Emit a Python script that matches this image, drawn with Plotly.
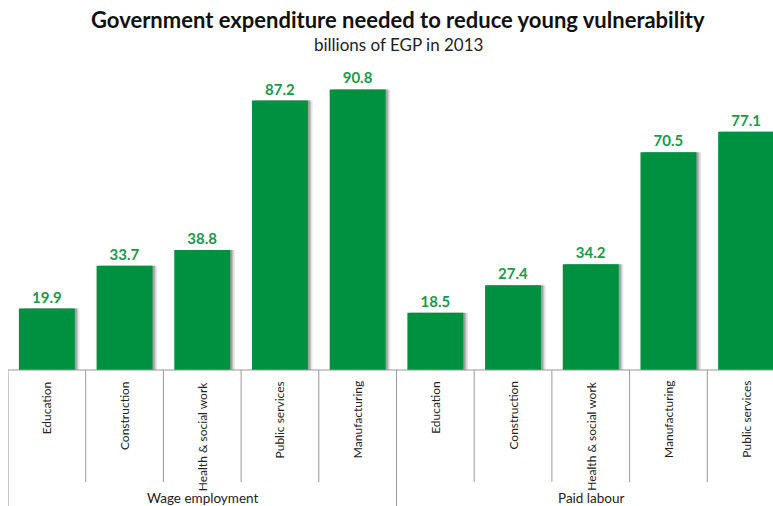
import plotly.graph_objects as go

# Data
groups = ["Wage employment", "Paid labour"]
categories = [
    "Education", "Construction", "Health & social work", "Public services", "Manufacturing",
    "Education", "Construction", "Health & social work", "Manufacturing", "Public services",
]
values = [19.9, 33.7, 38.8, 87.2, 90.8, 18.5, 27.4, 34.2, 70.5, 77.1]

W, H = 773, 506
ML, MR, MT, MB = 8, 0, 60, 136
CAT_PX = 77.7
x_max = (W - ML - MR) / CAT_PX
y_max = (H - MT - MB) / 3.09

GREEN = "#009140"
LABEL_GREEN = "#199a4a"
FONT = "Lato"

xs = [i + 0.5 for i in range(len(values))]

fig = go.Figure()

# soft drop shadow behind the bars
for dx, alpha in [(0.06, 0.10), (0.04, 0.14), (0.025, 0.18)]:
    fig.add_trace(go.Bar(
        x=[x + dx for x in xs], y=values, width=0.72,
        marker=dict(color=f"rgba(0,0,0,{alpha})", line_width=0),
        hoverinfo="skip", showlegend=False,
    ))

fig.add_trace(go.Bar(
    x=xs, y=values, width=0.72,
    marker=dict(color=GREEN, line_width=0),
    text=[f"{v:.1f}" for v in values],
    textposition="outside",
    textfont=dict(family=FONT, size=15, color=LABEL_GREEN, weight="bold"),
    cliponaxis=False,
    showlegend=False,
))

plot_h = H - MT - MB
axis_y_px = H - MB


def py(px):
    """Convert a pixel row to paper y."""
    return (axis_y_px - px) / plot_h


shapes = []
# horizontal axis line
shapes.append(dict(type="line", xref="x", yref="paper", x0=0, x1=x_max, y0=0, y1=0,
                   line=dict(color="#999999", width=1)))
for i in range(len(values) + 1):
    y_end = H if i % 5 == 0 else 482
    shapes.append(dict(type="line", xref="x", yref="paper", x0=i, x1=i, y0=0, y1=py(y_end),
                       line=dict(color="#999999", width=1)))

annotations = []
for i, c in enumerate(categories):
    annotations.append(dict(
        x=i + 0.5, xref="x", y=py(379), yref="paper",
        text=c, textangle=-90, showarrow=False,
        xanchor="center", yanchor="top",
        font=dict(family=FONT, size=12, color="#222222"),
    ))
for g, name in enumerate(groups):
    annotations.append(dict(
        x=g * 5 + 2.5, xref="x", y=py(498), yref="paper",
        text=name, showarrow=False, xanchor="center", yanchor="middle",
        font=dict(family=FONT, size=13.5, color="#222222"),
    ))
annotations.append(dict(
    x=(398 - ML) / (W - ML - MR), xref="paper", y=py(20), yref="paper",
    text="<b>Government expenditure needed to reduce young vulnerability</b>",
    showarrow=False, xanchor="center", yanchor="middle",
    font=dict(family=FONT, size=22, color="#111111"),
))
annotations.append(dict(
    x=(398 - ML) / (W - ML - MR), xref="paper", y=py(44), yref="paper",
    text="billions of EGP in 2013", showarrow=False, xanchor="center", yanchor="middle",
    font=dict(family=FONT, size=17, color="#222222"),
))

fig.update_layout(
    width=W, height=H,
    margin=dict(l=ML, r=MR, t=MT, b=MB),
    paper_bgcolor="white", plot_bgcolor="white",
    barmode="overlay",
    xaxis=dict(range=[0, x_max], showticklabels=False, showgrid=False, zeroline=False,
               showline=False, ticks=""),
    yaxis=dict(range=[0, y_max], showticklabels=False, showgrid=False, zeroline=False,
               showline=False, ticks=""),
    shapes=shapes, annotations=annotations,
)

fig.write_html("out.html")
